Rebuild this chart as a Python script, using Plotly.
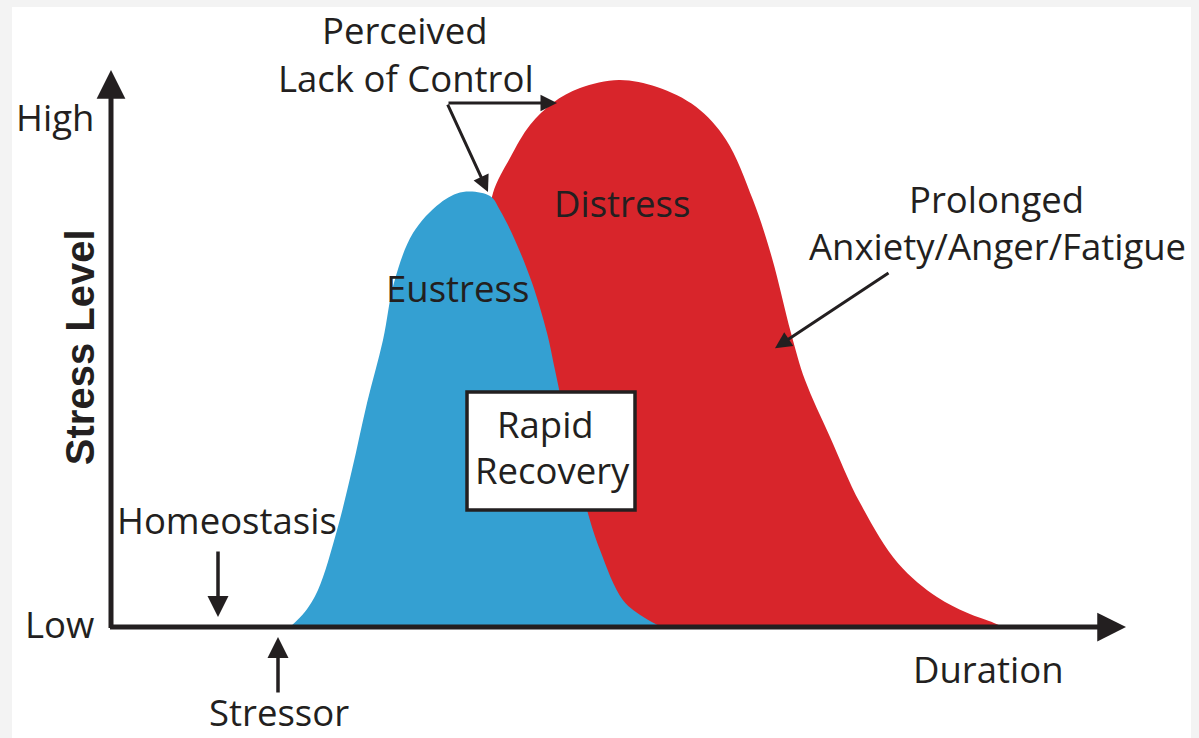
import plotly.graph_objects as go

# Eustress curve (duration, stress level)
eu_duration = [1.79, 1.94, 2.07, 2.26, 2.41, 2.56, 2.72, 2.83, 3.02, 3.29, 3.52, 3.79,
               3.89, 4.04, 4.21, 4.36, 4.44, 4.59, 4.76, 4.89, 5.12, 5.34, 5.51]
eu_stress = [0, 0.030, 0.073, 0.191, 0.310, 0.442, 0.566, 0.679, 0.777, 0.836, 0.858, 0.850,
             0.822, 0.763, 0.679, 0.580, 0.507, 0.369, 0.231, 0.152, 0.053, 0.018, 0]

# Distress curve
di_duration = [3.44, 3.54, 3.64, 3.74, 3.82, 3.99, 4.19, 4.42, 4.69, 5.08, 5.46, 5.85,
               6.15, 6.42, 6.61, 6.80, 6.94, 7.19, 7.49, 7.87, 8.26, 8.56, 8.83, 8.92]
di_stress = [0, 0.290, 0.544, 0.742, 0.856, 0.925, 0.990, 1.034, 1.063, 1.079, 1.065, 1.026,
             0.961, 0.842, 0.728, 0.580, 0.487, 0.375, 0.245, 0.126, 0.059, 0.028, 0.008, 0]

ytick_vals = [0, 1]
ytick_text = ["Low", "High"]

BLUE = "#34a0d2"
RED = "#d8252b"
INK = "#231f20"
FONT = "Open Sans, Noto Sans, sans-serif"

fig = go.Figure()
fig.add_trace(go.Scatter(x=di_duration, y=di_stress, mode="lines", fill="tozeroy",
                         line=dict(color=RED, width=0, shape="spline"),
                         fillcolor=RED, hoverinfo="skip", name="Distress"))
fig.add_trace(go.Scatter(x=eu_duration, y=eu_stress, mode="lines", fill="tozeroy",
                         line=dict(color=BLUE, width=0, shape="spline"),
                         fillcolor=BLUE, hoverinfo="skip", name="Eustress"))

# rapid recovery box
fig.add_shape(type="rect", x0=3.56, x1=5.24, y0=0.231, y1=0.4635,
              line=dict(color=INK, width=3.5), fillcolor="white", layer="above")


def arrow(x, y, ax, ay, width=3.5, size=1.2):
    fig.add_annotation(x=x, y=y, ax=ax, ay=ay, xref="x", yref="y", axref="x", ayref="y",
                       text="", showarrow=True, arrowhead=2, arrowsize=size,
                       arrowwidth=width, arrowcolor=INK, standoff=0)


def label(text, x, y, size=36.5, **kw):
    fig.add_annotation(x=x, y=y, xref="x", yref="y", text=text, showarrow=False,
                       font=dict(family=FONT, size=size, color=INK), **kw)


# axes with arrow heads
arrow(0, 1.0986, 0, -0.005, width=5, size=1.15)
arrow(10.15, 0, -0.025, 0, width=5, size=1.15)

for v, t in zip(ytick_vals, ytick_text):
    label(t, -0.15, v + 0.006, xanchor="right")

label("<b>Stress Level</b>", -0.31, 0.552, size=40, textangle=-90,
      font_family="Liberation Sans, Arial, sans-serif")
label("Duration", 8.77, -0.083)
label("Homeostasis", 1.16, 0.211)
label("Stressor", 1.68, -0.168)
label("Perceived", 2.94, 1.1775)
label("Lack of Control", 2.95, 1.083)
label("Eustress", 3.46, 0.6686)
label("Distress", 5.11, 0.836)
label("Prolonged", 8.85, 0.844)
label("Anxiety/Anger/Fatigue", 8.86, 0.751)
label("Rapid", 4.34, 0.400)
label("Recovery", 4.41, 0.310)

arrow(1.07, 0.0197, 1.07, 0.152)
arrow(1.67, -0.0197, 1.67, -0.132)
arrow(4.46, 1.0335, 3.36, 1.0335, width=3, size=1.1)
arrow(3.77, 0.858, 3.36, 1.0335, width=3, size=1.1)
arrow(6.64, 0.550, 7.79, 0.700, width=3, size=1.1)

fig.update_layout(
    width=1199, height=738,
    margin=dict(l=12, r=8, t=7, b=0, pad=0),
    paper_bgcolor="#f3f3f3", plot_bgcolor="white",
    showlegend=False,
    xaxis=dict(range=[-0.99, 10.80], visible=False, fixedrange=True),
    yaxis=dict(range=[-0.2189, 1.2229], visible=False, fixedrange=True),
)

fig.write_html("out.html", config={"displayModeBar": False},
               post_script="document.body.style.margin='0';document.body.style.overflow='hidden';")
